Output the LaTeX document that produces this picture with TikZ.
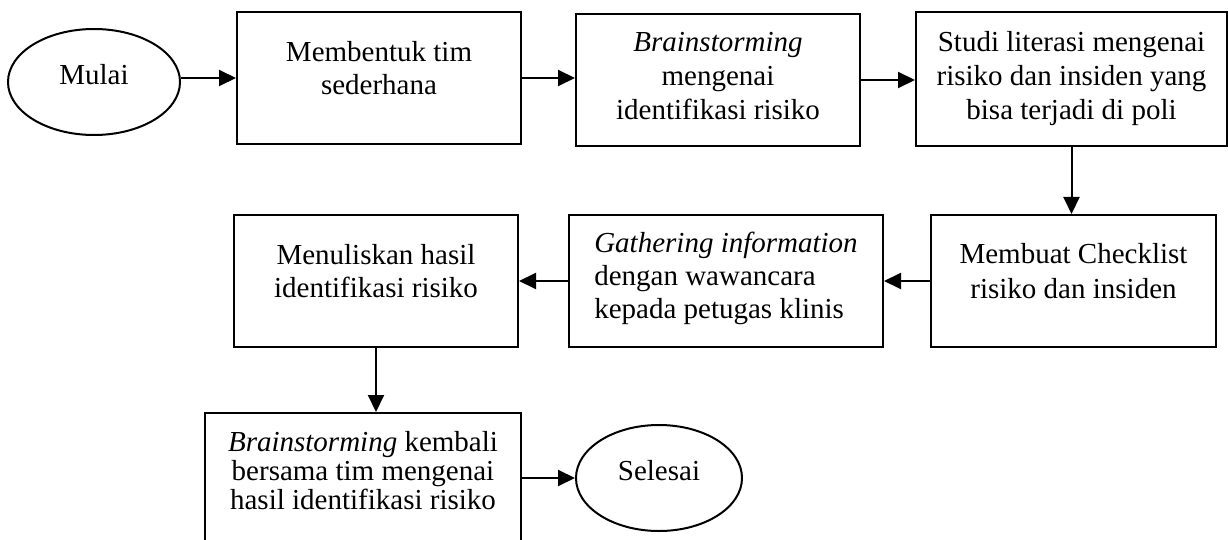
\documentclass[tikz,border=0pt]{standalone}
\usepackage{fontspec}
\setmainfont{Liberation Serif}
\usetikzlibrary{shapes.geometric, arrows.meta}
\newcommand{\boxh}{132pt}
\tikzset{
  stepbox/.style={
    draw=black, line width=2pt, minimum width=#1, minimum height=\boxh,
    inner sep=0pt, align=center, text depth=20pt,
    font=\fontsize{29}{33}\selectfont
  },
  stepbox/.default=284pt,
  threeline/.style={text depth=8pt, font=\fontsize{29}{34}\selectfont},
  endnode/.style={
    ellipse, draw=black, line width=2pt, minimum width=#1,
    minimum height=106pt, inner sep=0pt, text depth=16pt,
    font=\fontsize{29}{33}\selectfont
  },
  flow/.style={line width=2pt, -{Triangle[length=17pt,width=16pt]}}
}

\begin{document}
\begin{tikzpicture}[x=1pt, y=-1pt]
  \useasboundingbox (0,0) rectangle (1228,540);
  \clip (0,0) rectangle (1228,540);
  % first row
  \node[endnode=172pt] (mulai) at (94,82) {Mulai};
  \node[stepbox] (tim) at (379,78) {Membentuk tim\\sederhana};
  \node[stepbox, threeline] (brain) at (718,80) {\textit{Brainstorming}\\mengenai\\identifikasi risiko};
  \node[stepbox=311pt, threeline, minimum height=134pt] (studi) at (1071.5,79)
    {Studi literasi mengenai\\risiko dan insiden yang\\bisa terjadi di poli};
  % second row
  \node[stepbox=285pt, font=\fontsize{29}{35}\selectfont] (check) at (1073.5,281) {Membuat Checklist\\risiko dan insiden};
  \node[stepbox=314pt, text depth=12pt, align=left] (gather) at (726,281)
    {\textit{Gathering information}\\dengan wawancara\\kepada petugas klinis};
  \node[stepbox] (tulis) at (376,281) {Menuliskan hasil\\identifikasi risiko};
  % third row
  \node[stepbox=316pt, minimum height=134pt, font=\fontsize{29}{29}\selectfont] (ulang) at (363,480)
    {\textit{Brainstorming} kembali\\bersama tim mengenai\\hasil identifikasi risiko};
  \node[endnode=166pt] (selesai) at (659,478) {Selesai};

  \draw[flow] (mulai.east |- tim.west) -- (tim.west);
  \draw[flow] (tim.east) -- (tim.east -| brain.west);
  \draw[flow] (brain.east) -- (brain.east -| studi.west);
  \draw[flow] (studi.south) -- (studi.south |- check.north);
  \draw[flow] (check.west) -- (check.west -| gather.east);
  \draw[flow] (gather.west) -- (gather.west -| tulis.east);
  \draw[flow] (tulis.south) -- (tulis.south |- ulang.north);
  \draw[flow] (selesai.west -| ulang.east) -- (selesai.west);
\end{tikzpicture}
\end{document}
